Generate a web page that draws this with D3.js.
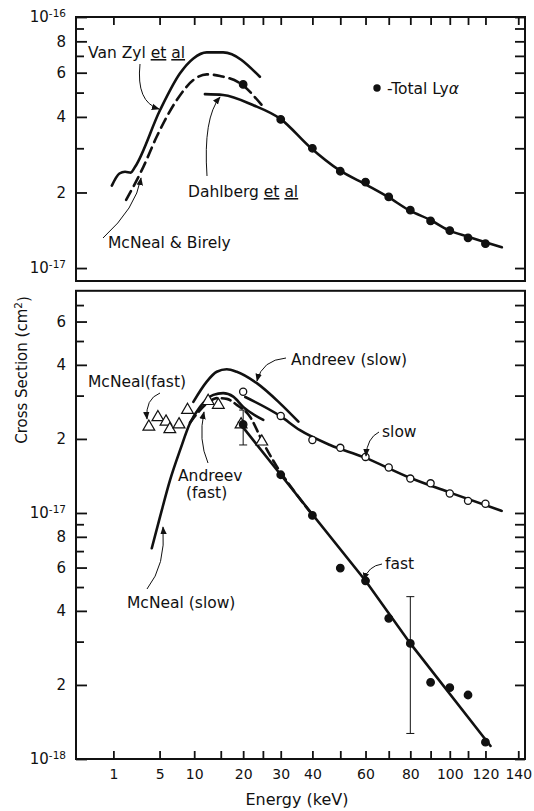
<!DOCTYPE html>
<html lang="en">
<head>
<meta charset="UTF-8">
<title>Lyman alpha cross sections</title>
<script src="https://d3js.org/d3.v7.min.js"></script>
<style>
  body { margin: 0; background: #fff; }
  svg { display: block; }
  text { font-family: "DejaVu Sans", sans-serif; fill: #111; }
  .note { font-size: 15.5px; }
</style>
</head>
<body>
<svg id="chart" width="534" height="811">
  <defs>
    <marker id="head" viewBox="0 0 10 10" refX="9" refY="5" markerUnits="userSpaceOnUse"
            markerWidth="8" markerHeight="8" orient="auto">
      <path d="M0,1L10,5L0,9Z" fill="#111"></path>
    </marker>
  </defs>
</svg>
<script>
// energies in keV, cross sections in cm^2

// x axis ticks (sqrt energy axis)
const xTickValues = [1, 5, 10, 15, 20, 25, 30, 40, 50, 60, 70, 80, 90, 100, 110, 120, 140];
const xTickLabels = [1, 5, 10, 20, 30, 40, 60, 80, 100, 120, 140];

// top panel y ticks
const topMajor = [1e-17, 2e-17, 4e-17, 6e-17, 8e-17, 1e-16];
const topMinor = [3e-17, 5e-17, 7e-17, 9e-17];
// bottom panel y ticks
const botMajor = [1e-18, 2e-18, 4e-18, 6e-18, 8e-18, 1e-17, 2e-17, 4e-17, 6e-17];
const botMinor = [3e-18, 5e-18, 7e-18, 9e-18, 3e-17, 5e-17, 7e-17];

// ---- top panel ----
const lyaEnergy = [20, 30, 40, 50, 60, 70, 80, 90, 100, 110, 120];
const lyaTotal  = [5.39e-17, 3.91e-17, 3.0e-17, 2.43e-17, 2.20e-17, 1.92e-17, 1.70e-17, 1.54e-17, 1.41e-17, 1.32e-17, 1.25e-17];

const vanZylEnergy = [0.92, 1.35, 1.72, 2.15, 2.5, 5.06, 7.75, 9.86, 12.24, 15.5, 24.2];
const vanZylSigma  = [2.13e-17, 2.38e-17, 2.42e-17, 2.40e-17, 2.53e-17, 4.26e-17, 5.97e-17, 6.84e-17, 7.23e-17, 7.23e-17, 5.78e-17];

const birelyEnergy = [1.8, 3.25, 4.67, 7.27, 9.86, 12.24, 14.85, 19.3, 24.7];
const birelySigma  = [1.87e-17, 2.53e-17, 3.34e-17, 4.67e-17, 5.61e-17, 5.91e-17, 5.82e-17, 5.44e-17, 4.46e-17];

const dahlbergEnergy = [11.9, 15.5, 22.4, 30, 39.2, 49.5, 60.6, 69.7, 79.4, 90.2, 99, 110.5, 129.8];
const dahlbergSigma  = [4.93e-17, 4.89e-17, 4.46e-17, 3.92e-17, 3.03e-17, 2.46e-17, 2.14e-17, 1.92e-17, 1.70e-17, 1.55e-17, 1.42e-17, 1.33e-17, 1.21e-17];

// ---- bottom panel ----
const mcnealFastEnergy = [3.8, 4.8, 5.8, 6.3, 7.6, 8.9, 12.5, 14.5, 19.5, 24.7];
const mcnealFastSigma  = [2.24e-17, 2.45e-17, 2.35e-17, 2.19e-17, 2.29e-17, 2.62e-17, 2.85e-17, 2.75e-17, 2.29e-17, 1.95e-17];

const mcnealSlowEnergy = [4.11, 5.06, 6.33, 7.75, 9.31, 11.02, 13.5, 15.5, 17.7, 20.0, 25.1];
const mcnealSlowSigma  = [7.19e-18, 9.66e-18, 1.36e-17, 1.80e-17, 2.32e-17, 2.70e-17, 3.02e-17, 3.07e-17, 2.97e-17, 2.70e-17, 2.39e-17];

const andreevSlowEnergy = [9.86, 12.24, 14.18, 16.27, 18.5, 23.4, 29.8, 35.4];
const andreevSlowSigma  = [2.83e-17, 3.42e-17, 3.75e-17, 3.84e-17, 3.75e-17, 3.37e-17, 2.79e-17, 2.35e-17];

const andreevFastEnergy = [9.31, 11.02, 12.86, 14.18, 16.27, 18.5, 21.68, 24.7, 28.8, 33.8, 39.2];
const andreevFastSigma  = [2.33e-17, 2.62e-17, 2.85e-17, 2.93e-17, 2.91e-17, 2.75e-17, 2.46e-17, 1.98e-17, 1.55e-17, 1.24e-17, 1.01e-17];

const slowEnergy = [20, 30, 40, 50, 60, 70, 80, 90, 100, 110, 120];
const slowSigma  = [3.11e-17, 2.48e-17, 1.98e-17, 1.84e-17, 1.69e-17, 1.53e-17, 1.38e-17, 1.32e-17, 1.20e-17, 1.12e-17, 1.09e-17];
const slowFitEnergy = [20.5, 29.8, 35.9, 46.2, 59.0, 79.8, 100.1, 129.7];
const slowFitSigma  = [2.96e-17, 2.48e-17, 2.17e-17, 1.89e-17, 1.69e-17, 1.39e-17, 1.21e-17, 1.02e-17];

const fastEnergy = [20, 30, 40, 50, 60, 70, 80, 90, 100, 110, 120];
const fastSigma  = [2.29e-17, 1.43e-17, 9.77e-18, 5.97e-18, 5.30e-18, 3.73e-18, 2.95e-18, 2.05e-18, 1.95e-18, 1.82e-18, 1.17e-18];
const fastFitEnergy = [19, 30, 60, 80, 123];
const fastFitSigma  = [2.34e-17, 1.43e-17, 5.3e-18, 2.95e-18, 1.13e-18];

const errEnergy = [20, 80];
const errLow    = [1.89e-17, 1.27e-18];
const errHigh   = [2.62e-17, 4.57e-18];

// ---- scales ----
const svg = d3.select("#chart");
const x = d3.scaleSqrt().domain([0, 144.3]).range([76, 525]);
const yTop = d3.scaleLog().domain([8.88e-18, 1e-16]).range([281, 17]);
const yBot = d3.scaleLog().domain([1e-18, 8e-17]).range([759, 290.8]);

const ink = "#111";

// power-of-ten labels get a superscript, others show the mantissa
function mantissa(d) {
  const p = Math.floor(Math.log10(d) + 1e-9);
  return [Math.round(d / Math.pow(10, p)), p];
}

function yAxes(y, major, minor) {
  const [x0, x1] = x.range();
  const g = svg.append("g").attr("color", ink);

  const left = g.append("g").attr("transform", `translate(${x0},0)`)
    .call(d3.axisLeft(y).tickValues(major).tickSize(-11).tickPadding(10).tickFormat(""));
  left.append("g")
    .call(d3.axisLeft(y).tickValues(minor).tickSize(-8).tickFormat(""));
  left.selectAll(".tick text").remove();

  // labels
  major.forEach(d => {
    const [m, p] = mantissa(d);
    const t = g.append("text")
      .attr("x", x0 - 10).attr("y", y(d)).attr("dy", "0.36em")
      .attr("text-anchor", "end").attr("font-size", 15);
    if (m === 1) {
      t.text("10").append("tspan").attr("dy", "-0.55em").attr("font-size", 10.5).text("-" + (-p));
    } else {
      t.text(m);
    }
  });

  g.append("g").attr("transform", `translate(${x1},0)`)
    .call(d3.axisRight(y).tickValues(major.concat(minor)).tickSize(-10).tickFormat(""));

  g.selectAll(".domain").remove();
  g.selectAll("line").attr("stroke-width", 1.8);
}

function frame(y) {
  const [x0, x1] = x.range();
  const [yb, yt] = y.range();
  svg.append("rect")
    .attr("x", x0).attr("y", yt).attr("width", x1 - x0).attr("height", yb - yt)
    .attr("fill", "none").attr("stroke", ink).attr("stroke-width", 2);
}

function drawLine(y, energy, sigma, opts) {
  const line = d3.line()
    .x(d => x(d[0])).y(d => y(d[1]))
    .curve(opts.curve || d3.curveMonotoneX);
  svg.append("path")
    .datum(d3.zip(energy, sigma))
    .attr("d", line)
    .attr("fill", "none")
    .attr("stroke", ink)
    .attr("stroke-width", 2.6)
    .attr("stroke-linecap", "round")
    .attr("stroke-dasharray", opts.dash || null);
}

function drawPoints(y, energy, sigma, opts) {
  svg.append("g").selectAll("path")
    .data(d3.zip(energy, sigma))
    .join("path")
    .attr("transform", d => `translate(${x(d[0])},${y(d[1])})`)
    .attr("d", d3.symbol(opts.type || d3.symbolCircle, opts.size || 42))
    .attr("fill", opts.fill)
    .attr("stroke", ink)
    .attr("stroke-width", opts.stroke || 1.3);
}

// note text + curved arrow, positions in pixels
function note(lines, tx, ty, arrow) {
  const t = svg.append("text").attr("class", "note").attr("x", tx).attr("y", ty);
  lines.forEach((ln, i) => {
    const row = t.append("tspan").attr("x", tx + (ln.indent || 0)).attr("dy", i ? 17 : 0);
    ln.parts.forEach(p => {
      const s = row.append("tspan").text(p.t);
      if (p.u) s.attr("text-decoration", "underline");
      if (p.i) s.attr("font-style", "italic");
    });
  });
  if (arrow) {
    const p = d3.path();
    p.moveTo(arrow[0], arrow[1]);
    p.quadraticCurveTo(arrow[2], arrow[3], arrow[4], arrow[5]);
    svg.append("path").attr("d", p.toString())
      .attr("fill", "none").attr("stroke", ink).attr("stroke-width", 1)
      .attr("marker-end", "url(#head)");
  }
}

// ---- top panel ----
frame(yTop);
yAxes(yTop, topMajor, topMinor);
svg.append("g").attr("color", ink)
  .attr("transform", `translate(0,${yTop.range()[1]})`)
  .call(d3.axisTop(x).tickValues(xTickValues).tickSize(-8).tickFormat(""))
  .call(g => g.select(".domain").remove())
  .call(g => g.selectAll("line").attr("stroke-width", 1.8));

drawLine(yTop, vanZylEnergy, vanZylSigma, {});
drawLine(yTop, birelyEnergy, birelySigma, { dash: "10 6" });
drawLine(yTop, dahlbergEnergy, dahlbergSigma, {});
drawPoints(yTop, lyaEnergy, lyaTotal, { fill: ink, size: 44 });

note([{ parts: [{ t: "Van Zyl " }, { t: "et", u: 1 }, { t: " " }, { t: "al", u: 1 }] }], 88, 58,
  [140, 64, 136, 102, 159, 109]);
note([{ parts: [{ t: "McNeal & Birely" }] }], 108, 248,
  [103, 238, 136, 208, 141, 178]);
note([{ parts: [{ t: "Dahlberg  " }, { t: "et", u: 1 }, { t: " " }, { t: "al", u: 1 }] }], 188, 197,
  [207, 176, 203, 118, 220, 97]);

// legend
svg.append("circle").attr("cx", 377).attr("cy", 88).attr("r", 3.7).attr("fill", ink);
note([{ parts: [{ t: "-Total Ly" }, { t: "α", i: 1 }] }], 387, 94, null);

// ---- bottom panel ----
frame(yBot);
yAxes(yBot, botMajor, botMinor);
svg.append("g").attr("color", ink)
  .attr("transform", `translate(0,${yBot.range()[0]})`)
  .call(d3.axisBottom(x).tickValues(xTickValues).tickSize(-8).tickPadding(10)
    .tickFormat(d => xTickLabels.includes(d) ? d : ""))
  .call(g => g.select(".domain").remove())
  .call(g => g.selectAll("line").attr("stroke-width", 1.8))
  .call(g => g.selectAll("text").attr("font-size", 14).attr("font-family", "DejaVu Sans"));

drawLine(yBot, andreevSlowEnergy, andreevSlowSigma, {});
drawLine(yBot, mcnealSlowEnergy, mcnealSlowSigma, {});
drawLine(yBot, andreevFastEnergy, andreevFastSigma, { dash: "9 5" });
drawLine(yBot, slowFitEnergy, slowFitSigma, {});
drawLine(yBot, fastFitEnergy, fastFitSigma, { curve: d3.curveLinear });

// error bars
errEnergy.forEach((e, i) => {
  const g = svg.append("g").attr("stroke", ink).attr("stroke-width", 1);
  g.append("line").attr("x1", x(e)).attr("x2", x(e)).attr("y1", yBot(errLow[i])).attr("y2", yBot(errHigh[i]));
  [errLow[i], errHigh[i]].forEach(v => {
    g.append("line").attr("x1", x(e) - 4).attr("x2", x(e) + 4).attr("y1", yBot(v)).attr("y2", yBot(v));
  });
});

drawPoints(yBot, mcnealFastEnergy, mcnealFastSigma, { type: d3.symbolTriangle, size: 60, fill: "#fff", stroke: 1.2 });
drawPoints(yBot, slowEnergy, slowSigma, { fill: "#fff", size: 40, stroke: 1.3 });
drawPoints(yBot, fastEnergy, fastSigma, { fill: ink, size: 44 });

note([{ parts: [{ t: "Andreev (slow)" }] }], 291, 365, [286, 358, 262, 360, 257, 381]);
note([{ parts: [{ t: "McNeal(fast)" }] }], 88, 387, [160, 393, 145, 399, 147, 419]);
note([{ parts: [{ t: "Andreev" }] }, { parts: [{ t: "(fast)" }], indent: 8 }], 178, 481,
  [208, 463, 198, 440, 204, 412]);
note([{ parts: [{ t: "McNeal (slow)" }] }], 127, 608, [147, 589, 166, 565, 163, 527]);
note([{ parts: [{ t: "slow" }] }], 382, 437, [379, 432, 367, 438, 366, 456]);
note([{ parts: [{ t: "fast" }] }], 385, 569, [382, 564, 368, 566, 364, 580]);

// axis titles
svg.append("text")
  .attr("transform", "translate(27,370) rotate(-90)")
  .attr("text-anchor", "middle").attr("font-size", 15)
  .text("Cross Section (cm")
  .call(t => t.append("tspan").attr("dy", "-0.5em").attr("font-size", 10.5).text("2"))
  .call(t => t.append("tspan").attr("dy", "0.5em").text(")"));

svg.append("text")
  .attr("x", 297).attr("y", 805)
  .attr("text-anchor", "middle").attr("font-size", 16)
  .text("Energy (keV)");
</script>
</body>
</html>
